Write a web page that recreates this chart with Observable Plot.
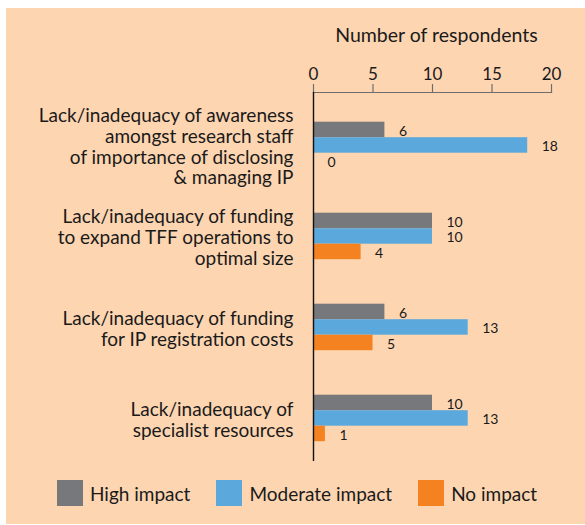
<!DOCTYPE html>
<html>
<head>
<meta charset="utf-8">
<script src="https://cdn.jsdelivr.net/npm/d3@7"></script>
<script src="https://cdn.jsdelivr.net/npm/@observablehq/plot@0.6"></script>
<style>
  html, body { margin: 0; padding: 0; background: #ffffff; }
  body { width: 585px; height: 525px; position: relative; overflow: hidden; font-family: Lato, "Noto Sans", sans-serif; color: #1a1a1a; }
  #panel { position: absolute; left: 6px; top: 8px; width: 579px; height: 516px; background: #fdd5b1; }
  #chart { position: absolute; left: 0; top: 0; }
  #legend { position: absolute; left: 57px; top: 480px; display: flex; align-items: center; gap: 26px; font-size: 19px; }
  .item { display: flex; align-items: center; gap: 7px; }
  .sw { width: 26px; height: 26px; display: inline-block; }
</style>
</head>
<body>
<div id="panel"></div>
<div id="chart"></div>
<div id="legend"></div>
<script>
const categories = [
  "Lack/inadequacy of awareness amongst research staff of importance of disclosing & managing IP",
  "Lack/inadequacy of funding to expand TFF operations to optimal size",
  "Lack/inadequacy of funding for IP registration costs",
  "Lack/inadequacy of specialist resources"
];
const categoryLines = [
  "Lack/inadequacy of awareness\namongst research staff\nof importance of disclosing\n& managing IP",
  "Lack/inadequacy of funding\nto expand TFF operations to\noptimal size",
  "Lack/inadequacy of funding\nfor IP registration costs",
  "Lack/inadequacy of\nspecialist resources"
];
const series = ["High impact", "Moderate impact", "No impact"];
const highImpact = [6, 10, 6, 10];
const moderateImpact = [18, 10, 13, 13];
const noImpact = [0, 4, 5, 1];
const xTicks = [0, 5, 10, 15, 20];
const xTitle = "Number of respondents";
const colors = ["#77787b", "#5ba8dc", "#f58220"];

const seriesValues = [highImpact, moderateImpact, noImpact];
const rows = [];
series.forEach((s, k) => categories.forEach((c, i) => rows.push({category: c, series: s, value: seriesValues[k][i]})));

const width = 585, height = 470;
const marginTop = 92, marginBottom = 9, marginLeft = 313, marginRight = 34;
const paddingInner = 0.489, paddingOuter = 0.272;
const step = (height - marginTop - marginBottom) / (categories.length - paddingInner + 2 * paddingOuter);
const bar = step * (1 - paddingInner) / series.length;

const marks = [];
series.forEach((s, k) => {
  const data = rows.filter(r => r.series === s);
  marks.push(Plot.barX(data, {
    x: "value", y: "category", fill: colors[k],
    insetTop: k * bar, insetBottom: (series.length - 1 - k) * bar
  }));
  marks.push(Plot.text(data, {
    x: "value", y: "category", text: d => String(d.value),
    textAnchor: "start", dx: 14, dy: (k - 1) * bar + 1.5,
    fontSize: 14, fill: "#1a1a1a"
  }));
});

const chart = Plot.plot({
  width, height, marginTop, marginBottom, marginLeft, marginRight,
  style: {background: "none", fontFamily: "Lato, 'Noto Sans', sans-serif", color: "#1a1a1a"},
  x: {domain: [0, 20], axis: null},
  y: {domain: categories, paddingInner, paddingOuter, align: 0.6, round: false, axis: null},
  marks: [
    Plot.frame({anchor: "top", stroke: "#6d6d6d", strokeWidth: 1.2}),
    Plot.axisX({
      anchor: "top", ticks: xTicks, tickSize: 9, tickPadding: 4,
      stroke: "#6d6d6d", strokeWidth: 1.2, fontSize: 17, label: null
    }),
    Plot.text([xTitle], {
      frameAnchor: "top", lineAnchor: "middle", text: d => d, dy: -57, dx: 4,
      fontSize: 19.5, fill: "#1a1a1a"
    }),
    ...marks,
    Plot.ruleX([0], {stroke: "#111", strokeWidth: 1.4}),
    Plot.text(categories, {
      y: d => d, text: (d, i) => categoryLines[i],
      frameAnchor: "left", textAnchor: "end", dx: -20, dy: 1,
      lineHeight: 1.1, fontSize: 19, fill: "#1a1a1a"
    })
  ]
});
document.getElementById("chart").appendChild(chart);

const legend = document.getElementById("legend");
series.forEach((s, k) => {
  const item = document.createElement("div");
  item.className = "item";
  const sw = document.createElement("span");
  sw.className = "sw";
  sw.style.background = colors[k];
  const label = document.createElement("span");
  label.textContent = s;
  item.appendChild(sw);
  item.appendChild(label);
  legend.appendChild(item);
});
</script>
</body>
</html>
